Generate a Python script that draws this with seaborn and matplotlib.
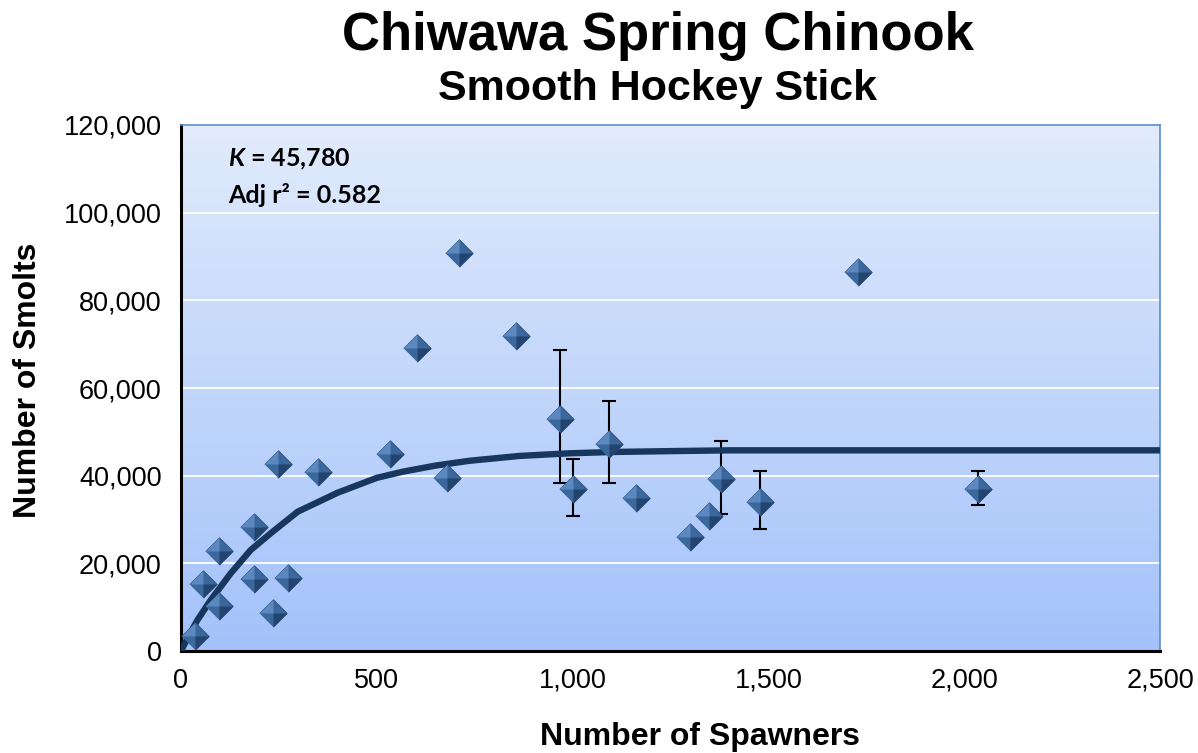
import numpy as np
import pandas as pd
import matplotlib
matplotlib.use("Agg")
import matplotlib.pyplot as plt
import seaborn as sns
from matplotlib.colors import LinearSegmentedColormap
from matplotlib.ticker import FuncFormatter

# ---------------- data ----------------
spawners = [35, 57, 97, 97, 187, 187, 235, 248, 272, 350, 534, 603, 679, 710,
            856, 968, 1001, 1094, 1162, 1300, 1348, 1379, 1478, 1730, 2035]
smolts = [3490, 15280, 10340, 22880, 28360, 16430, 8670, 42660, 16650, 40770,
          45000, 69060, 39400, 90870, 71870, 53000, 36960, 47220, 34830,
          25940, 30800, 39170, 34060, 86530, 36960]

err_spawners = [968, 1001, 1094, 1379, 1478, 2035]
err_smolts = [53000, 36960, 47220, 39170, 34060, 36960]
err_low = [38400, 30800, 38400, 31180, 27830, 33300]
err_high = [68670, 43870, 57040, 47910, 41060, 41140]

curve_spawners = [0, 21, 42, 76, 127, 178, 229, 298, 400, 500, 566, 650, 737,
                  864, 992, 1100, 1250, 1400, 2500]
curve_smolts = [0, 3650, 7070, 11630, 17720, 23040, 26850, 31780, 36110, 39500,
                40900, 42300, 43400, 44500, 45100, 45400, 45600, 45780, 45780]

x_ticks = [0, 500, 1000, 1500, 2000, 2500]
y_ticks = [0, 20000, 40000, 60000, 80000, 100000, 120000]

title = "Chiwawa Spring Chinook"
subtitle = "Smooth Hockey Stick"
x_label = "Number of Spawners"
y_label = "Number of Smolts"
k_text = r"$\mathit{K}$ = 45,780"
r2_text = "Adj r\u00b2 = 0.582"

# ---------------- style ----------------
sns.set_style("white")
plt.rcParams["font.family"] = ["Liberation Sans", "DejaVu Sans"]
plt.rcParams["text.color"] = "black"
plt.rcParams["axes.labelcolor"] = "black"
plt.rcParams["xtick.color"] = "black"
plt.rcParams["ytick.color"] = "black"
plt.rcParams["mathtext.fontset"] = "custom"
plt.rcParams["mathtext.it"] = "Lato:italic:bold"
plt.rcParams["mathtext.rm"] = "Lato:bold"
plt.rcParams["mathtext.bf"] = "Lato:bold"

W, H = 1198, 753
fig = plt.figure(figsize=(W / 100, H / 100), dpi=100)
fig.patch.set_facecolor("white")
ax = fig.add_axes([181 / W, 1 - 651 / H, (1160 - 181) / W, (651 - 125) / H])

# gradient background
cmap = LinearSegmentedColormap.from_list("bg", ["#a3c2fa", "#e1ebfc"])
grad = np.linspace(0, 1, 256).reshape(-1, 1)
ax.imshow(grad, cmap=cmap, extent=[0, 1, 0, 1], transform=ax.transAxes,
          aspect="auto", origin="lower", zorder=-1)

df = pd.DataFrame({"Spawners": spawners, "Smolts": smolts})
cdf = pd.DataFrame({"Spawners": curve_spawners, "Smolts": curve_smolts})

# error bars
err = np.array([np.array(err_smolts) - np.array(err_low),
                np.array(err_high) - np.array(err_smolts)])
ax.errorbar(err_spawners, err_smolts, yerr=err, fmt="none", ecolor="black",
            elinewidth=1.5, capsize=4.8, capthick=1.5, zorder=3)

# fitted curve
sns.lineplot(data=cdf, x="Spawners", y="Smolts", sort=False, estimator=None,
             color="#17375e", linewidth=4.6, ax=ax, zorder=4)

# diamond markers with bevel
diamond = [(-1, 0), (0, 1), (1, 0), (0, -1)]
tl = [(-1, 0), (0, 1), (0, 0)]
br = [(1, 0), (0, -1), (0, 0)]
msize = 390
sns.scatterplot(data=df, x="Spawners", y="Smolts", marker=diamond, s=msize,
                color="#3a679c", edgecolor="#2a4c78", linewidth=0.6, ax=ax, zorder=5)
ax.scatter(spawners, smolts, marker=tl, s=msize, color="#5a88bf",
           linewidths=0, zorder=6)
ax.scatter(spawners, smolts, marker=br, s=msize, color="#244470",
           linewidths=0, zorder=6)

ax.set_xlim(0, 2500)
ax.set_ylim(0, 120000)
ax.set_xticks(x_ticks)
ax.set_yticks(y_ticks)
fmt = FuncFormatter(lambda v, p: f"{int(v):,}")
ax.xaxis.set_major_formatter(fmt)
ax.yaxis.set_major_formatter(fmt)
ax.tick_params(axis="both", which="major", labelsize=19.5, length=5,
               width=2, color="black", labelcolor="black", direction="out")
ax.tick_params(axis="y", pad=9)
ax.tick_params(axis="x", pad=7)
ax.yaxis.grid(True, color="white", linewidth=1.3)
ax.xaxis.grid(False)
ax.set_axisbelow(True)

for s in ["left", "bottom"]:
    ax.spines[s].set_color("black")
    ax.spines[s].set_linewidth(2.2)
for s in ["top", "right"]:
    ax.spines[s].set_color("#5b8ccb")
    ax.spines[s].set_linewidth(1.2)

ax.set_xlabel("")
ax.set_ylabel("")

# annotations
ax.text(47 / 979, (651 - 166) / 526, k_text, transform=ax.transAxes,
        fontsize=18, fontweight="bold", family="Lato", va="baseline", ha="left",
        color="black", zorder=8)
ax.text(47 / 979, (651 - 203) / 526, r2_text, transform=ax.transAxes,
        fontsize=18, fontweight="bold", family="Lato", va="baseline", ha="left",
        color="black", zorder=8)

# titles and axis labels
fig.text(658 / W, 1 - 50 / H, title, fontsize=38, fontweight="bold",
         ha="center", va="baseline", color="black")
fig.text(658 / W, 1 - 100 / H, subtitle, fontsize=31, fontweight="bold",
         ha="center", va="baseline", color="black")
fig.text(700 / W, 1 - 737 / H, x_label, fontsize=23, fontweight="bold",
         ha="center", va="center", color="black")
fig.text(28 / W, 1 - 380 / H, y_label, fontsize=23, fontweight="bold",
         ha="center", va="center", rotation=90, color="black")

fig.savefig("out.png", dpi=100)
